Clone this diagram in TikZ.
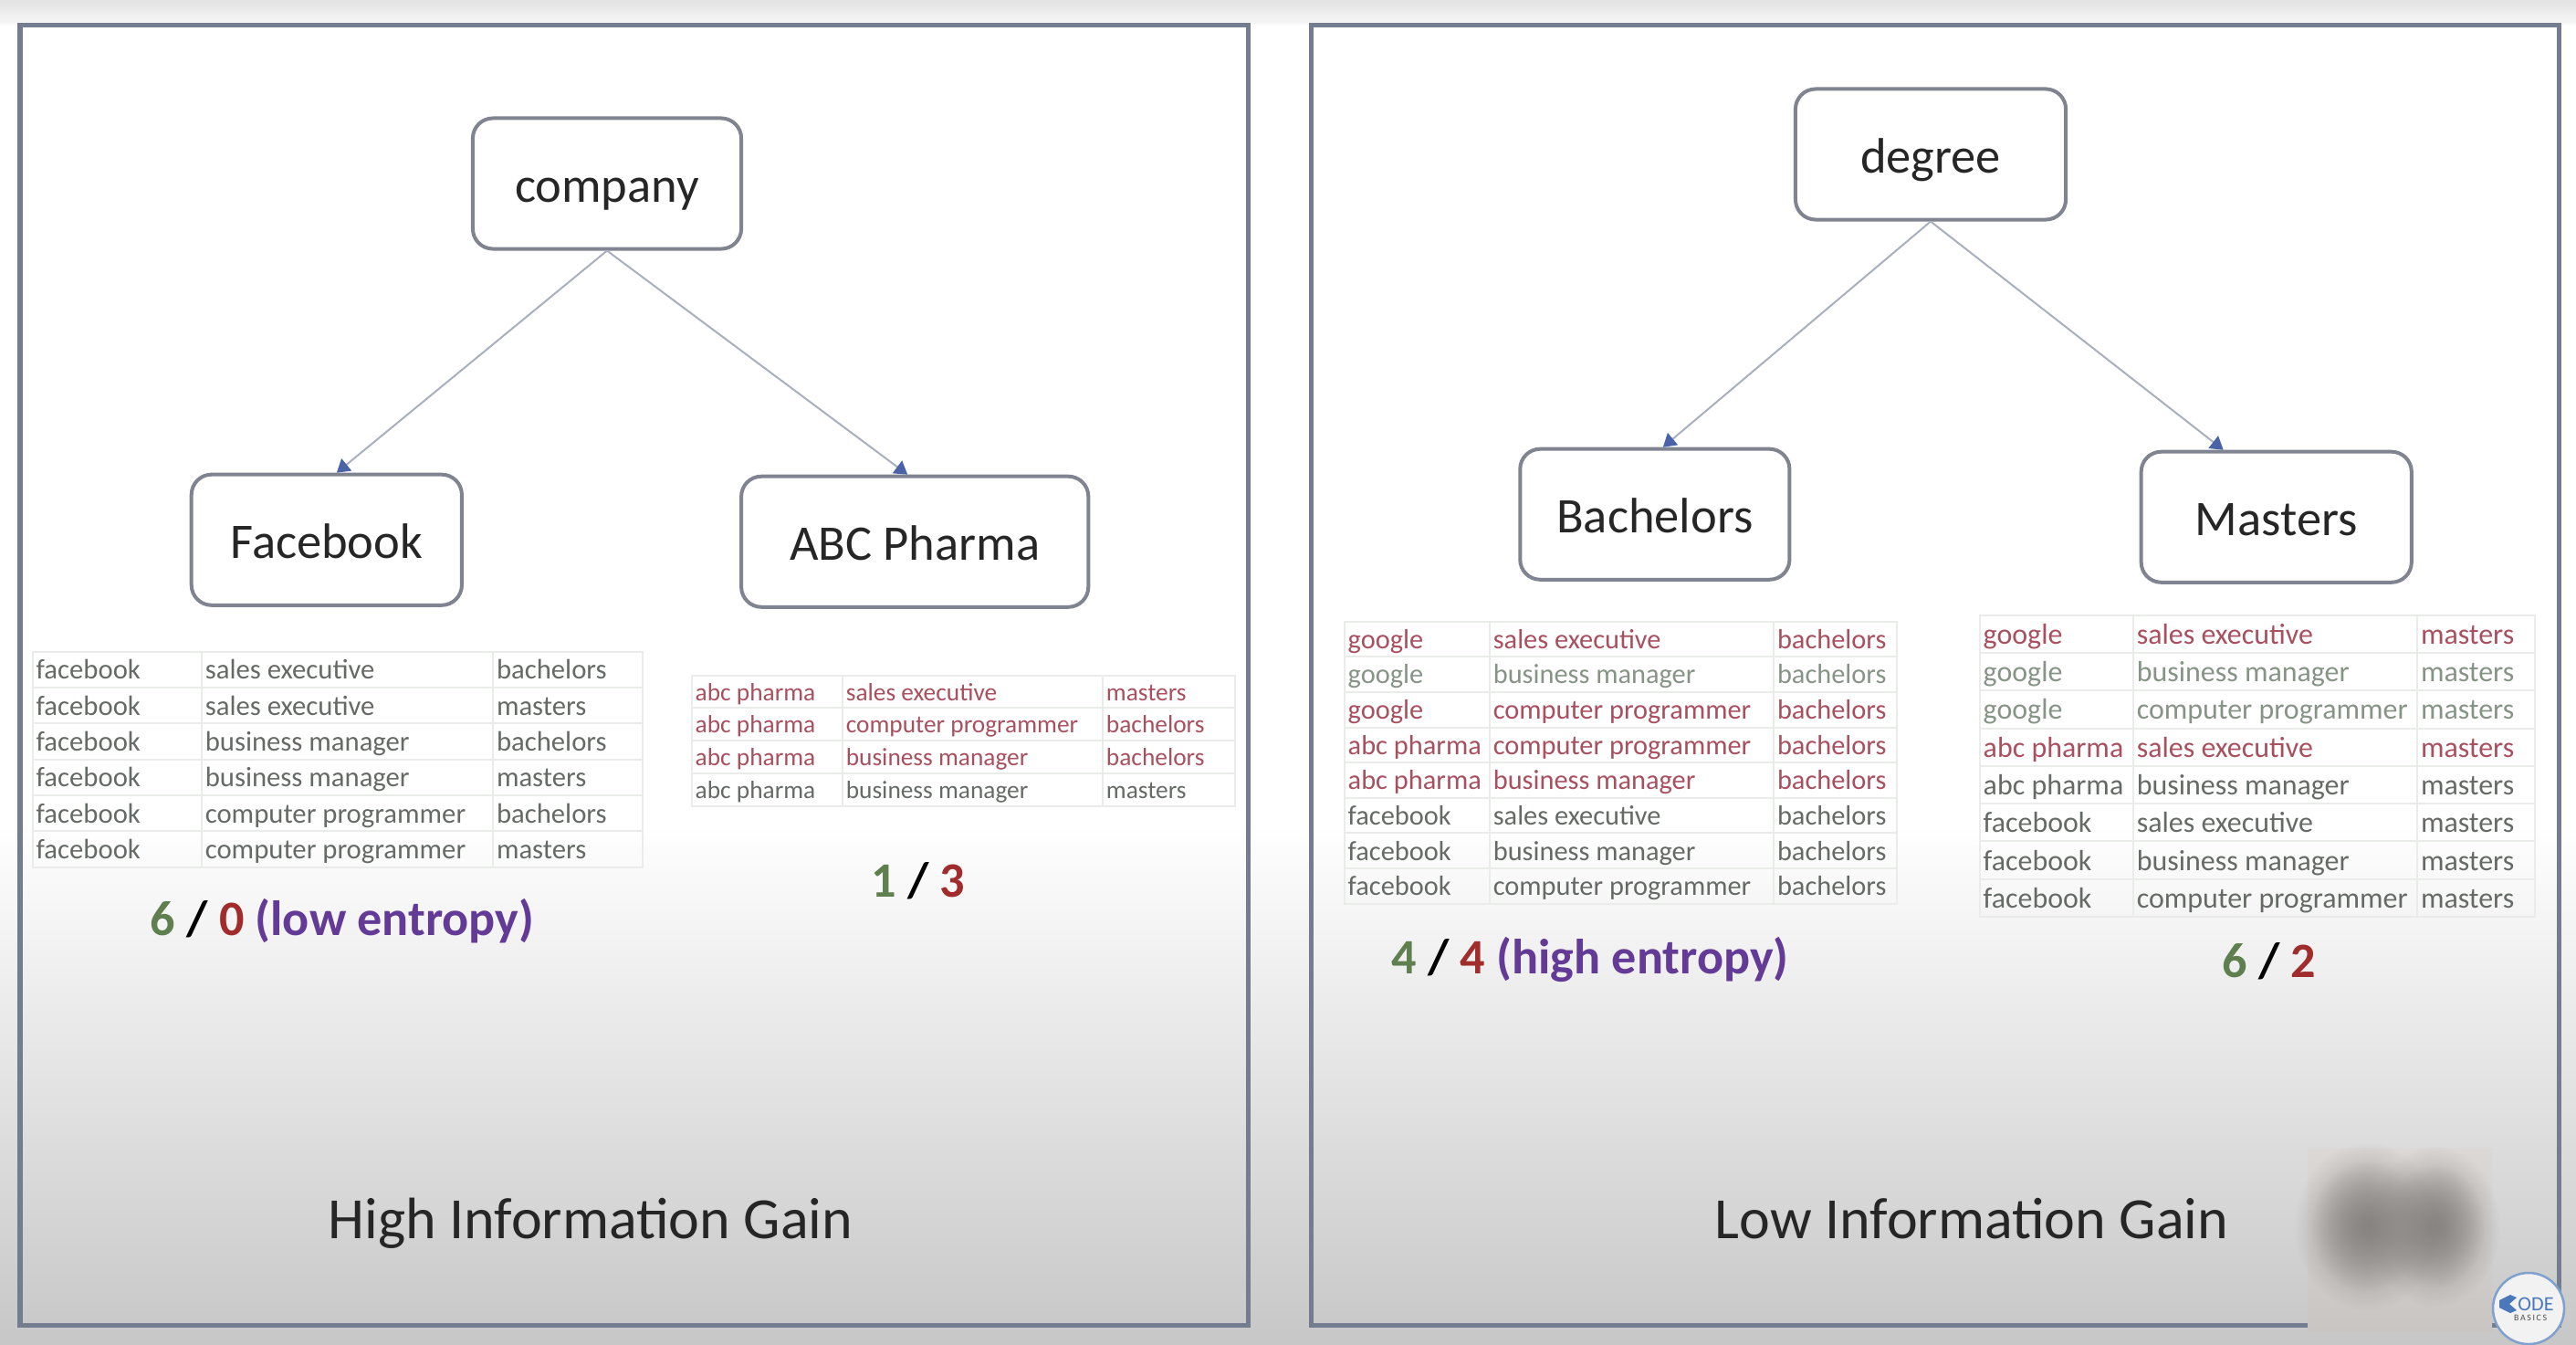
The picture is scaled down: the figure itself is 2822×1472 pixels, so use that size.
\documentclass[tikz,border=0pt]{standalone}
\usepackage{fontspec}
\setmainfont{Carlito}
\usepackage{array}
\usepackage{colortbl}
\usetikzlibrary{positioning,arrows.meta,fadings}

\definecolor{framegray}{HTML}{737D8F}
\definecolor{boxgray}{HTML}{7F8490}
\definecolor{linkgray}{HTML}{A9AFBD}
\definecolor{tipblue}{HTML}{4A62A8}
\definecolor{gridgray}{HTML}{EAECEA}
\definecolor{rowgray}{HTML}{666A66}
\definecolor{rowred}{HTML}{A8505F}
\definecolor{rowgreen}{HTML}{869486}
\definecolor{yesgreen}{HTML}{5F7F4F}
\definecolor{nored}{HTML}{A02C2C}
\definecolor{notepurple}{HTML}{633A96}
\definecolor{blobgray}{HTML}{858280}
\definecolor{patchtop}{HTML}{DBD8D6}
\definecolor{patchbot}{HTML}{C8C5C2}
\definecolor{logoblue}{HTML}{4A78B8}

\tikzfading[name=blobfade, inner color=transparent!15, outer color=transparent!100]

\newlength{\rowht}
\setlength{\tabcolsep}{.03cm}
\setlength{\arrayrulewidth}{.02cm}
\renewcommand{\arraystretch}{.5}
\arrayrulecolor{gridgray}

% one table row: colour, then the three cells
\newcommand{\tabrow}[4]{\textcolor{#1}{\rule[-.22\rowht]{0pt}{\rowht}#2} & \textcolor{#1}{#3} & \textcolor{#1}{#4}\\\hline}

\begin{document}
\begin{tikzpicture}[
x=.01cm, y=-.01cm,
>={Triangle[length=.14cm,width=.17cm,color=tipblue]},
treebox/.style={draw=boxgray, line width=.04cm, rounded corners=.22cm, fill=white,
minimum height=1.43cm, text height=.4cm, text depth=0pt,
font=\fontsize{15.5}{18}\selectfont, text=black!85},
link/.style={->, draw=linkgray, line width=.02cm},
frame/.style={draw=framegray, line width=.05cm},
datatable/.style={anchor=north west, inner sep=0pt},
count/.style={font=\fontsize{15.4}{19}\selectfont\bfseries},
gain/.style={font=\fontsize{18.2}{20}\selectfont, text=black!85, text depth=0pt}
]

\useasboundingbox (0,0) rectangle (2822,1472);

% slide background
\shade[top color=black!11, bottom color=black!3] (0,0) rectangle (2822,27);
\fill[white] (0,27) rectangle (2822,900);
\shade[top color=white, bottom color=black!22] (0,900) rectangle (2822,1472);

\draw[frame] (22,27) rectangle (1367,1451);
\draw[frame] (1436,27) rectangle (2803,1451);

% left tree
\node[treebox, minimum width=2.94cm] (company) at (665,201) {company};
\node[treebox, minimum width=2.96cm,
below=2.43cm of company, xshift=-3.07cm] (facebook) {Facebook};
\node[treebox, minimum width=3.8cm,
right=3.02cm of facebook, yshift=-.02cm] (abc) {ABC Pharma};

\draw[link] (company.south) -- ([xshift=.11cm]facebook.north);
\draw[link] (company.south) -- ([xshift=-.08cm]abc.north);

% right tree
\node[treebox, minimum width=2.96cm] (degree) at (2115,169) {degree};
\node[treebox, minimum width=2.95cm,
below=2.47cm of degree, xshift=-3.02cm] (bachelors) {Bachelors};
\node[treebox, minimum width=2.96cm,
right=3.81cm of bachelors, yshift=-.03cm] (masters) {Masters};

\draw[link] (degree.south) -- ([xshift=.09cm]bachelors.north);
\draw[link] (degree.south) -- ([xshift=-.58cm]masters.north);

% tables
\node[datatable, font=\fontsize{8.73}{8.73}\selectfont] (facebooktab) at (34,712) {%
\setlength{\rowht}{.373cm}%
\begin{tabular}{|w{l}{1.77cm}|w{l}{3.11cm}|w{l}{1.56cm}|}\hline
\tabrow{rowgray}{facebook}{sales executive}{bachelors}
\tabrow{rowgray}{facebook}{sales executive}{masters}
\tabrow{rowgray}{facebook}{business manager}{bachelors}
\tabrow{rowgray}{facebook}{business manager}{masters}
\tabrow{rowgray}{facebook}{computer programmer}{bachelors}
\tabrow{rowgray}{facebook}{computer programmer}{masters}
\end{tabular}};

\node[datatable, font=\fontsize{7.78}{7.78}\selectfont] (abctab) at (756,738) {%
\setlength{\rowht}{.3375cm}%
\begin{tabular}{|w{l}{1.57cm}|w{l}{2.77cm}|w{l}{1.37cm}|}\hline
\tabrow{rowred}{abc pharma}{sales executive}{masters}
\tabrow{rowred}{abc pharma}{computer programmer}{bachelors}
\tabrow{rowred}{abc pharma}{business manager}{bachelors}
\tabrow{rowgray}{abc pharma}{business manager}{masters}
\end{tabular}};

\node[datatable, font=\fontsize{8.64}{8.64}\selectfont] (bachelorstab) at (1471,679) {%
\setlength{\rowht}{.366cm}%
\begin{tabular}{|w{l}{1.51cm}|w{l}{3.03cm}|w{l}{1.27cm}|}\hline
\tabrow{rowred}{google}{sales executive}{bachelors}
\tabrow{rowgreen}{google}{business manager}{bachelors}
\tabrow{rowred}{google}{computer programmer}{bachelors}
\tabrow{rowred}{abc pharma}{computer programmer}{bachelors}
\tabrow{rowred}{abc pharma}{business manager}{bachelors}
\tabrow{rowgray}{facebook}{sales executive}{bachelors}
\tabrow{rowgray}{facebook}{business manager}{bachelors}
\tabrow{rowgray}{facebook}{computer programmer}{bachelors}
\end{tabular}};

\node[datatable, font=\fontsize{9.08}{9.08}\selectfont] (masterstab) at (2167,672) {%
\setlength{\rowht}{.3925cm}%
\begin{tabular}{|w{l}{1.6cm}|w{l}{3.03cm}|w{l}{1.21cm}|}\hline
\tabrow{rowred}{google}{sales executive}{masters}
\tabrow{rowgreen}{google}{business manager}{masters}
\tabrow{rowgreen}{google}{computer programmer}{masters}
\tabrow{rowred}{abc pharma}{sales executive}{masters}
\tabrow{rowgray}{abc pharma}{business manager}{masters}
\tabrow{rowgray}{facebook}{sales executive}{masters}
\tabrow{rowgray}{facebook}{business manager}{masters}
\tabrow{rowgray}{facebook}{computer programmer}{masters}
\end{tabular}};

% counts
\node[count] (lowcount) at (375,1009) {\textcolor{yesgreen}{6} / \textcolor{nored}{0} \textcolor{notepurple}{(low entropy)}};
\node[count] (abccount) at (1006,965) {\textcolor{yesgreen}{1} / \textcolor{nored}{3}};
\node[count] (highcount) at (1742,1051) {\textcolor{yesgreen}{4} / \textcolor{nored}{4} \textcolor{notepurple}{(high entropy)}};
\node[count] (masterscount) at (2486,1053) {\textcolor{yesgreen}{6} / \textcolor{nored}{2}};

\node[gain] (highgain) at (647,1334) {High Information Gain};
\node[gain] (lowgain) at (2160,1334) {Low Information Gain};

% blurred patch
\shade[top color=patchtop, bottom color=patchbot] (2528,1257) rectangle (2730,1458);
\fill[blobgray, path fading=blobfade] (2593,1343) ellipse (80 and 92);
\fill[blobgray, path fading=blobfade] (2593,1343) ellipse (62 and 72);
\fill[blobgray, path fading=blobfade] (2667,1343) ellipse (72 and 88);
\fill[blobgray, path fading=blobfade] (2667,1343) ellipse (55 and 68);

% logo
\node[circle, draw=logoblue!70, line width=.025cm, fill=black!5, minimum size=.78cm, inner sep=0pt] (logo) at (2770,1433) {};
\fill[logoblue] (2738,1424) -- (2750,1418) -- (2757,1421) -- (2749,1428) -- (2757,1435) -- (2750,1438) -- (2738,1432) -- cycle;
\node[inner sep=0pt, text=logoblue, font=\fontsize{6.3}{7}\selectfont] (logocode) at (2778,1428) {ODE};
\node[inner sep=0pt, text=black!70, font=\fontsize{2.8}{3}\selectfont] (logobasics) at (2772,1443) {B\,A\,S\,I\,C\,S};

\end{tikzpicture}
\end{document}
